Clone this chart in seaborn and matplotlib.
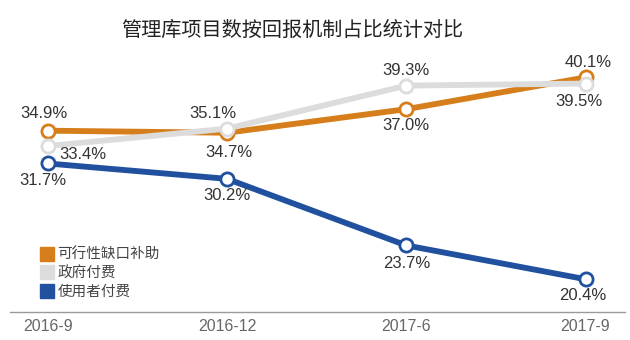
import matplotlib
matplotlib.use("Agg")
import matplotlib.pyplot as plt
from matplotlib.lines import Line2D
import seaborn as sns
import pandas as pd

periods = ["2016-9", "2016-12", "2017-6", "2017-9"]
series_names = ["可行性缺口补助", "政府付费", "使用者付费"]
viability_gap = [34.9, 34.7, 37.0, 40.1]
government_pay = [33.4, 35.1, 39.3, 39.5]
user_pay = [31.7, 30.2, 23.7, 20.4]

colors = {"可行性缺口补助": "#D67E1B", "政府付费": "#DCDCDC", "使用者付费": "#20509E"}

# label offsets in pixels (dx, dy) for each point
offsets = {
    "可行性缺口补助": [(-4, 17), (2, -20), (0, -16), (3, 15)],
    "政府付费": [(35, -8), (-14, 15), (0, 15), (-7, -18)],
    "使用者付费": [(-5, -17), (0, -17), (0, -18), (-3, -16)],
}

sns.set_theme(style="white")
plt.rcParams["font.family"] = ["Liberation Sans", "Noto Sans CJK SC"]

df = pd.DataFrame({
    "pos": list(range(len(periods))) * 3,
    "value": viability_gap + government_pay + user_pay,
    "series": sum([[s] * len(periods) for s in series_names], []),
})

fig = plt.figure(figsize=(6.3, 3.4), dpi=100)
ax = fig.add_axes([10 / 630, 28 / 340, 615 / 630, 252 / 340])

draw_order = ["使用者付费", "可行性缺口补助", "政府付费"]
for z, name in enumerate(draw_order):
    sub = df[df["series"] == name]
    c = colors[name]
    sns.lineplot(data=sub, x="pos", y="value", ax=ax, color=c, linewidth=4.2,
                 marker="o", markersize=9.5, markerfacecolor="white",
                 markeredgecolor=c, markeredgewidth=2.0, zorder=3 + z)

for name, vals in zip(series_names, [viability_gap, government_pay, user_pay]):
    for i, v in enumerate(vals):
        dx, dy = offsets[name][i]
        ax.annotate(f"{v:.1f}%", (i, v), xytext=(dx, dy), textcoords="offset pixels",
                    ha="center", va="center", fontsize=12, color="#333333", zorder=10)

ax.set_xlim(-0.21, 3.22)
ax.set_ylim(17.2, 41.8)
ax.set_xticks(range(len(periods)))
ax.set_xticklabels(periods, fontsize=11.5, color="#666666")
ax.tick_params(axis="x", length=0, pad=5)
ax.set_yticks([])
ax.set_xlabel("")
ax.set_ylabel("")
for side in ["top", "left", "right"]:
    ax.spines[side].set_visible(False)
ax.spines["bottom"].set_color("#9a9a9a")
ax.spines["bottom"].set_linewidth(1.0)

handles = [Line2D([0], [0], marker="s", linestyle="none", markersize=10,
                  markerfacecolor=colors[n], markeredgecolor=colors[n]) for n in series_names]
fig.legend(handles, series_names, loc="upper left", bbox_to_anchor=(34 / 630, 1 - 242 / 340),
           frameon=False, fontsize=10.5, handletextpad=0.2, labelspacing=0.3,
           handlelength=1.0, borderaxespad=0, labelcolor="#444444")

fig.text(292 / 630, 1 - 30 / 340, "管理库项目数按回报机制占比统计对比", ha="center", va="center",
         fontsize=14.5, color="#222222")

fig.savefig("out.png", dpi=100)
